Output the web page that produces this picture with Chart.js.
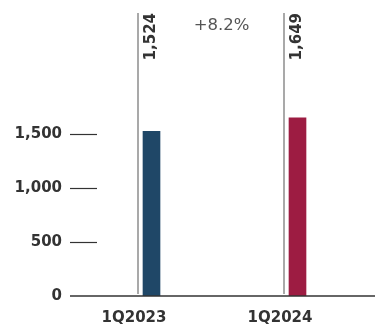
<!DOCTYPE html>
<html>
<head>
<meta charset="utf-8">
<script src="https://cdn.jsdelivr.net/npm/chart.js@4/dist/chart.umd.min.js"></script>
<style>
  html, body { margin: 0; padding: 0; background: #fff; }
  canvas { display: block; }
</style>
</head>
<body>
<canvas id="c" width="375" height="331"></canvas>
<script>
// Quarterly totals
const categories = ['1Q2023', '1Q2024'];
const values = [1524, 1649];
const barColors = ['#1f4767', '#9d1c42'];
const yTicks = [0, 500, 1000, 1500];
const yMax = 2620;

const FONT = '"DejaVu Sans", sans-serif';
const fmt = v => v.toLocaleString('en-US');

// Reference lines, value labels, axis marks and the growth note
const overlay = {
  id: 'overlay',
  afterDatasetsDraw(chart) {
    const { ctx, chartArea: a, scales: { y } } = chart;
    const bars = chart.getDatasetMeta(0).data;
    ctx.save();

    // vertical guide left of each bar
    ctx.strokeStyle = '#8c8c8c';
    ctx.lineWidth = 1.5;
    bars.forEach(b => {
      const x = b.x - b.width / 2 - 5;
      ctx.beginPath();
      ctx.moveTo(x, a.top);
      ctx.lineTo(x, a.bottom - 2);
      ctx.stroke();
    });

    // short y tick marks
    ctx.strokeStyle = '#333';
    ctx.lineWidth = 1.2;
    yTicks.forEach(v => {
      if (v === 0) return;
      const py = Math.round(y.getPixelForValue(v)) + 0.5;
      ctx.beginPath();
      ctx.moveTo(a.left - 8.5, py);
      ctx.lineTo(a.left + 18.5, py);
      ctx.stroke();
    });

    // baseline
    const by = y.getPixelForValue(0);
    ctx.lineWidth = 1.5;
    ctx.beginPath();
    ctx.moveTo(a.left - 8.5, by);
    ctx.lineTo(chart.width, by);
    ctx.stroke();

    // rotated value labels at top
    ctx.fillStyle = '#333';
    ctx.font = 'bold 15px ' + FONT;
    ctx.textAlign = 'right';
    ctx.textBaseline = 'middle';
    bars.forEach((b, i) => {
      ctx.save();
      ctx.translate(b.x, a.top);
      ctx.rotate(-Math.PI / 2);
      ctx.fillText(fmt(values[i]), 0, 0);
      ctx.restore();
    });

    // growth between the two quarters
    const g = (values[1] / values[0] - 1) * 100;
    ctx.fillStyle = '#555';
    ctx.font = '16.5px ' + FONT;
    ctx.textAlign = 'center';
    ctx.textBaseline = 'alphabetic';
    ctx.fillText('+' + g.toFixed(1) + '%', (bars[0].x + bars[1].x) / 2 - 3, a.top + 17);

    ctx.restore();
  }
};

const noPad = s => { s.paddingTop = 0; s.paddingBottom = 0; s.paddingLeft = 0; s.paddingRight = 0; };

new Chart(document.getElementById('c'), {
  type: 'bar',
  data: {
    labels: categories,
    datasets: [{
      data: values,
      backgroundColor: barColors,
      barThickness: 17
    }]
  },
  options: {
    responsive: false,
    devicePixelRatio: 1,
    animation: false,
    layout: { padding: { top: 13, right: 4.5, left: 0, bottom: 0 } },
    plugins: { legend: { display: false }, tooltip: { enabled: false } },
    scales: {
      x: {
        grid: { display: false, drawTicks: false },
        border: { display: false },
        ticks: {
          font: { family: FONT, size: 15, weight: 'bold' },
          color: '#333',
          labelOffset: -17.5,
          padding: 13
        },
        afterFit: s => { s.height = 35; noPad(s); }
      },
      y: {
        min: 0,
        max: yMax,
        afterBuildTicks: s => { s.ticks = yTicks.map(v => ({ value: v })); },
        grid: { display: false, drawTicks: false },
        border: { display: false },
        ticks: {
          font: { family: FONT, size: 15, weight: 'bold' },
          color: '#333',
          padding: 16.5,
          callback: v => fmt(v)
        },
        afterFit: s => { s.width = 78.5; noPad(s); }
      }
    }
  },
  plugins: [overlay]
});
</script>
</body>
</html>
